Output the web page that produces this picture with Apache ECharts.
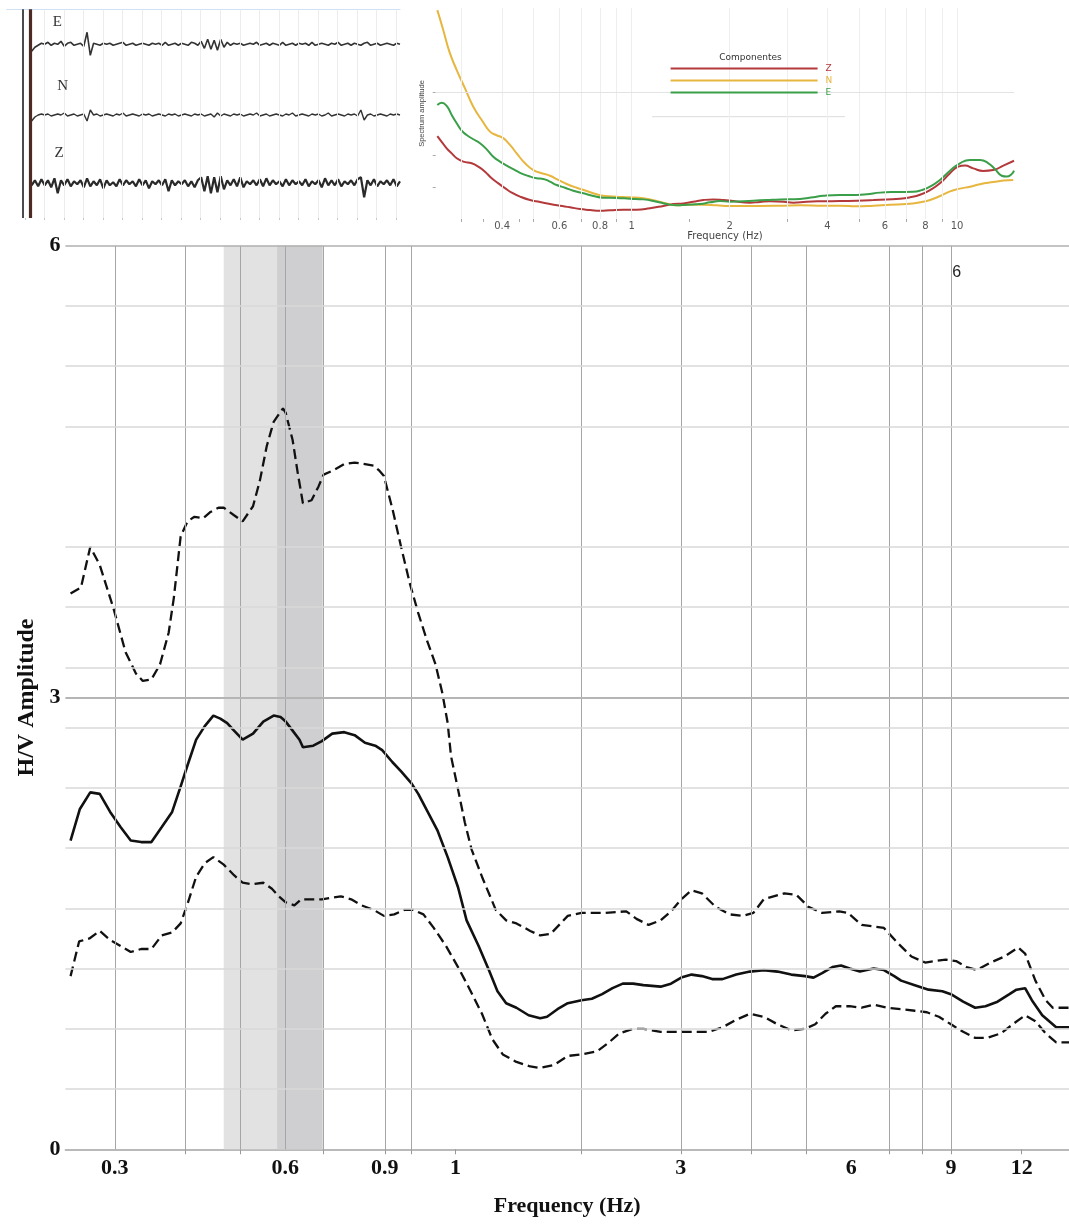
<!DOCTYPE html>
<html>
<head>
<meta charset="utf-8">
<script src="https://cdn.jsdelivr.net/npm/echarts@6/dist/echarts.min.js"></script>
<style>
  html, body { margin: 0; padding: 0; background: #fff; }
  #chart { width: 1069px; height: 1225px; }
</style>
</head>
<body>
<div id="chart"></div>
<script>
// ---------- H/V spectral ratio: mean curve and +/- one standard deviation ----------
const hvMeanFreq = [0.2506,0.2603,0.2715,0.2822,0.2944,0.3071,0.3201,0.3339,0.3482,0.3632,
  0.3788,0.3922,0.4033,0.4177,0.4326,0.4480,0.4608,0.4739,0.4873,0.5047,
  0.5264,0.5489,0.5725,0.5888,0.6013,0.6184,0.6360,0.6449,0.6726,0.6966,
  0.7265,0.7630,0.7959,0.8300,0.8656,0.8902,0.9285,0.9615,1.003,1.031,
  1.068,1.114,1.162,1.212,1.255,1.318,1.374,1.423,1.474,1.537,
  1.615,1.693,1.741,1.816,1.894,2.003,2.089,2.178,2.272,2.369,
  2.471,2.576,2.763,2.882,3.005,3.134,3.268,3.408,3.554,3.758,
  3.974,4.203,4.445,4.700,4.971,5.147,5.329,5.558,5.756,5.961,
  6.216,6.571,6.853,7.147,7.349,7.771,8.219,8.692,9.001,9.459,
  9.934,10.36,10.88,11.42,11.75,12.17,12.51,13.05,13.81,14.55];
const hvMeanAmp = [2.05,2.26,2.37,2.36,2.24,2.14,2.05,2.04,2.04,2.14,
  2.24,2.41,2.55,2.72,2.81,2.88,2.86,2.83,2.78,2.72,
  2.76,2.84,2.88,2.87,2.84,2.78,2.72,2.67,2.68,2.71,
  2.76,2.77,2.75,2.70,2.68,2.65,2.57,2.51,2.43,2.36,
  2.25,2.12,1.94,1.74,1.52,1.35,1.19,1.05,0.97,0.94,
  0.89,0.87,0.88,0.93,0.97,0.99,1.00,1.03,1.07,1.10,
  1.10,1.09,1.08,1.10,1.14,1.16,1.15,1.13,1.13,1.16,
  1.18,1.19,1.18,1.16,1.15,1.14,1.17,1.21,1.22,1.20,
  1.18,1.20,1.19,1.15,1.12,1.09,1.06,1.05,1.03,0.98,
  0.94,0.95,0.98,1.03,1.06,1.07,0.99,0.89,0.81,0.81];

const hvUpperFreq = [0.2506,0.2614,0.2715,0.2822,0.2985,0.3135,0.3269,0.3362,0.3482,0.3606,
  0.3735,0.3814,0.3922,0.4033,0.4148,0.4296,0.4418,0.4575,0.4673,0.4873,
  0.5047,0.5264,0.5413,0.5567,0.5725,0.5946,0.6013,0.6184,0.6315,0.6449,
  0.6679,0.6869,0.7015,0.7316,0.7630,0.7959,0.8300,0.8596,0.8779,0.8966,
  0.9285,0.9615,0.9958,1.031,1.068,1.106,1.137,1.162,1.178,1.212,
  1.246,1.281,1.336,1.413,1.474,1.537,1.626,1.693,1.766,1.894,
  2.003,2.209,2.403,2.505,2.631,2.763,2.882,3.005,3.134,3.268,
  3.456,3.654,3.865,4.030,4.203,4.571,4.800,5.041,5.329,5.716,
  5.919,6.259,6.571,6.853,7.247,7.664,8.105,8.453,8.814,9.192,
  9.592,10.00,10.58,11.19,11.83,12.17,12.69,13.23,13.62,14.55];
const hvUpperAmp = [3.69,3.73,4.00,3.88,3.59,3.30,3.16,3.11,3.12,3.22,
  3.43,3.66,4.07,4.17,4.20,4.19,4.23,4.26,4.26,4.21,
  4.17,4.27,4.44,4.67,4.83,4.92,4.89,4.71,4.49,4.29,
  4.31,4.40,4.48,4.51,4.55,4.56,4.55,4.54,4.51,4.47,
  4.25,4.00,3.76,3.56,3.38,3.22,3.03,2.83,2.61,2.39,
  2.17,1.99,1.81,1.59,1.52,1.50,1.45,1.42,1.43,1.55,
  1.57,1.57,1.58,1.53,1.49,1.52,1.58,1.66,1.72,1.70,
  1.61,1.56,1.55,1.57,1.66,1.70,1.69,1.61,1.57,1.58,
  1.57,1.49,1.48,1.47,1.37,1.28,1.24,1.25,1.26,1.25,
  1.21,1.19,1.24,1.28,1.34,1.30,1.12,0.99,0.94,0.94];

const hvLowerFreq = [0.2506,0.2595,0.2706,0.2822,0.2944,0.3071,0.3201,0.3339,0.3482,0.3632,
  0.3788,0.3922,0.4033,0.4177,0.4326,0.4480,0.4673,0.4873,0.5047,0.5227,
  0.5489,0.5685,0.5847,0.6013,0.6228,0.6404,0.6679,0.6966,0.7214,0.7523,
  0.7848,0.8184,0.8596,0.8966,0.9350,0.9751,1.010,1.053,1.098,1.154,
  1.212,1.272,1.336,1.394,1.454,1.537,1.626,1.693,1.791,1.894,
  2.003,2.133,2.240,2.336,2.471,2.576,2.763,2.922,3.090,3.360,
  3.554,3.758,3.974,4.203,4.445,4.700,4.971,5.183,5.404,5.636,
  5.961,6.259,6.571,6.949,7.349,7.771,8.162,8.571,9.001,9.459,
  9.934,10.43,11.03,11.67,12.17,12.69,13.23,13.81,14.55];
const hvLowerAmp = [1.15,1.38,1.40,1.45,1.39,1.35,1.31,1.33,1.33,1.42,
  1.44,1.50,1.63,1.81,1.90,1.94,1.89,1.82,1.77,1.76,
  1.77,1.73,1.68,1.64,1.62,1.66,1.66,1.66,1.67,1.68,
  1.66,1.62,1.59,1.55,1.56,1.59,1.59,1.56,1.47,1.35,
  1.21,1.06,0.90,0.73,0.63,0.58,0.55,0.54,0.56,0.62,
  0.63,0.65,0.71,0.77,0.80,0.80,0.78,0.78,0.78,0.78,
  0.81,0.86,0.90,0.88,0.83,0.79,0.80,0.83,0.90,0.95,
  0.95,0.94,0.96,0.94,0.93,0.92,0.91,0.88,0.83,0.78,
  0.74,0.74,0.77,0.84,0.89,0.85,0.77,0.71,0.71];

// peak frequency range (light) and its core (dark)
const peakBand = [0.4673, 0.6986];
const peakCore = [0.5807, 0.6986];

// axis ticks and grid of the H/V panel
const hvTickValues = [0.3, 0.6, 0.9, 1.2, 3, 6, 9, 12];
const hvTickTexts  = ['0.3', '0.6', '0.9', '1', '3', '6', '9', '12'];
const hvTickMarks  = [0.4, 0.5, 0.7, 0.9, 1, 1.2, 2, 3, 4, 5, 7, 8, 9, 12];
const hvGridFreqs  = [0.3, 0.4, 0.5, 0.6, 0.7, 0.9, 1, 2, 3, 4, 5, 7, 8, 9];
const ampGridValues = [0.4, 0.8, 1.2, 1.6, 2.0, 2.4, 2.8, 3.2, 3.6, 4.0, 4.8, 5.2, 5.6];
const ampTickValues = [0, 3, 6];

// ---------- component amplitude spectra (Z, N, E) ----------
const specZFreq = [0.2529,0.2608,0.2702,0.2800,0.2901,0.3039,0.3225,0.3380,0.3544,0.3716,
  0.3894,0.4082,0.4280,0.4540,0.4873,0.5231,0.5613,0.6025,0.6467,0.6941,
  0.7451,0.7998,0.8584,0.9430,1.037,1.139,1.252,1.344,1.442,1.547,
  1.661,1.783,1.913,2.053,2.312,2.481,2.662,2.926,3.140,3.452,
  3.882,4.370,4.918,5.534,6.081,6.682,7.171,7.696,8.260,8.863,
  9.517,10.09,10.58,11.22,12.04,12.93,13.88,14.97];
const specZAmp = [39.3,36.6,33.5,31.1,28.8,27.2,26.4,24.8,22.4,19.3,
  16.9,14.6,12.5,10.6,9.0,8.1,7.1,6.3,5.6,4.7,
  4.3,3.9,4.1,4.4,4.4,5.1,6.2,7.1,7.4,8.2,
  9.0,9.3,9.0,8.5,7.7,8.1,8.4,8.2,7.7,8.2,
  8.4,8.5,8.7,9.0,9.3,9.6,10.3,11.5,13.7,16.9,
  21.7,24.8,25.3,24.0,22.8,23.2,25.3,27.6];

const specNFreq = [0.2529,0.2637,0.2754,0.2901,0.3076,0.3262,0.3462,0.3671,0.3832,0.4034,
  0.4229,0.4434,0.4704,0.4988,0.5292,0.5613,0.5953,0.6317,0.6781,0.7278,
  0.7813,0.8285,0.9000,0.9888,1.086,1.194,1.297,1.376,1.512,1.661,
  1.826,2.006,2.481,2.858,3.293,3.882,4.370,4.918,5.534,6.225,
  7.002,7.696,8.260,8.863,9.517,10.21,10.96,11.77,12.93,13.88,14.89];
const specNAmp = [99.0,89.6,79.3,70.6,61.9,53.2,46.9,41.4,39.8,38.3,
  35.1,31.1,26.4,23.2,21.7,20.5,18.5,16.6,14.8,13.3,
  11.7,10.9,10.6,10.3,9.8,8.5,7.1,6.5,6.8,6.8,
  6.5,6.2,6.2,6.3,6.5,6.3,6.3,6.0,6.3,6.8,
  7.1,7.9,9.0,10.9,13.1,14.4,15.3,16.5,17.5,18.2,18.5];

const specEFreq = [0.2529,0.2608,0.2702,0.2800,0.2901,0.3005,0.3113,0.3262,0.3420,0.3587,
  0.3758,0.3940,0.4132,0.4329,0.4540,0.4815,0.5109,0.5355,0.5613,0.5886,
  0.6243,0.6619,0.7104,0.7626,0.8185,0.9000,0.9888,1.086,1.194,1.282,
  1.376,1.477,1.623,1.742,1.870,2.006,2.366,2.601,2.858,3.293,
  3.617,3.882,4.370,4.918,5.280,5.800,6.527,7.340,7.789,8.260,
  8.863,9.517,10.21,10.96,11.77,12.49,13.09,13.72,14.21,14.73,14.97];
const specEAmp = [54.0,55.1,53.6,49.3,45.4,41.9,39.8,37.8,35.9,33.0,
  29.5,27.2,25.3,23.6,21.9,20.4,19.3,19.0,17.7,16.1,
  14.8,13.4,12.2,10.9,10.1,10.0,9.6,9.3,8.2,7.1,
  6.5,6.8,7.1,7.9,8.5,8.2,8.7,9.0,9.3,9.5,
  10.3,11.0,11.4,11.4,11.7,12.5,12.8,12.9,13.7,15.3,
  18.5,22.9,26.4,28.0,28.0,26.4,23.6,20.5,20.1,21.3,22.9];

const specTickValues = [0.4, 0.6, 0.8, 1, 2, 4, 6, 8, 10];
const specTickTexts  = ['0.4', '0.6', '0.8', '1', '2', '4', '6', '8', '10'];
const specMinorTicks = [0.3, 0.35, 0.45, 0.5, 0.7, 0.9, 1.5, 3, 5, 7, 9];
const specGridFreqs  = [0.3, 0.4, 0.5, 0.6, 0.7, 0.8, 0.9, 1, 2, 3, 4, 5, 6, 7, 8, 9, 10];
const specAmpTicks   = [15, 30, 60];

// ---------- three-component ambient noise record ----------
const traceE = [-7,-3,-1,1,0,2,-1,1,0,3,
  -2,1,2,-1,0,1,-2,12,-11,1,
  0,-1,1,0,1,-1,0,1,2,-1,
  0,1,-1,0,1,0,-1,1,0,1,
  -1,2,-1,0,1,-1,1,0,-1,2,
  1,-1,3,-4,5,-5,4,-6,5,-3,
  2,-1,1,0,1,-1,0,1,0,2,
  -1,0,1,-1,1,0,-1,2,-1,0,
  1,-1,1,0,1,-1,2,-1,0,1,
  0,-1,1,0,2,-1,0,1,-1,1,
  0,-1,1,2,-1,0,1,-1,0,1,
  0,-1,1,0];
const traceN = [-6,-2,0,1,0,1,-1,0,1,0,
  2,-1,0,1,-1,0,1,-6,5,0,
  1,-1,0,1,0,-1,1,0,2,-1,
  0,1,0,-1,1,0,1,-1,0,1,
  0,-1,1,0,1,-1,0,1,0,-1,
  1,0,1,-1,0,1,-2,2,-1,1,
  0,-1,1,0,1,-1,0,1,0,2,
  -1,0,1,-1,0,1,0,-1,1,0,
  2,-1,0,1,0,-1,1,0,1,-1,
  0,2,-1,0,1,0,-1,1,0,1,
  -1,5,-5,0,1,-1,0,1,0,-1,
  1,0,1,0];
const traceZ = [-2,3,-3,4,-2,3,-4,5,-10,3,
  -2,4,-3,2,-1,3,-4,5,-3,2,
  -2,4,-5,3,-2,1,-3,4,-2,3,
  -1,2,-3,4,-2,3,-5,2,-1,3,
  -2,4,-8,3,-2,2,-1,3,-3,2,
  -4,3,6,-8,7,-10,6,-9,7,-6,
  3,-2,4,-3,6,-4,2,-1,3,-2,
  4,-3,5,-2,3,-1,2,-3,4,-2,
  3,-1,2,-2,4,-3,2,-1,3,-4,
  5,-2,3,-2,4,-3,2,-1,3,-2,
  4,6,-14,3,-2,4,-3,2,-1,3,
  -2,4,-3,2];
const traceStart = 0.35;   // record start / end on the time axis (minor divisions)
const traceEnd = 19.2;
const timeDivisions = [1,2,3,4,5,6,7,8,9,10,11,12,13,14,15,16,17,18,19];
const timeTicks = [0,1,2,3,4,5,6,7,8,9,10,11,12,13,14,15,16,17,18,19];

// ---------- helpers ----------
const zip = (xs, ys) => xs.map((x, i) => [x, ys[i]]);
const sampled = (vals) => {
  const dt = (traceEnd - traceStart) / (vals.length - 1);
  return vals.map((v, i) => [traceStart + i * dt, v]);
};
const lookup = (values, texts) => (v) => {
  const i = values.findIndex(t => Math.abs(t - v) < 1e-6 * Math.max(1, t));
  return i >= 0 ? texts[i] : '';
};

const serif = '"Liberation Serif", "Times New Roman", serif';
const sans = '"DejaVu Sans", Verdana, sans-serif';
const narrow = '"Liberation Sans Narrow", "Liberation Sans", Arial, sans-serif';
const colZ = '#b4393b', colN = '#e7b63f', colE = '#3a9f48';

const vLine = (f, color, width) => ({ xAxis: f, lineStyle: { color: color, width: width, type: 'solid' } });
const hLine = (a, color, width) => ({ yAxis: a, lineStyle: { color: color, width: width, type: 'solid' } });

const chart = echarts.init(document.getElementById('chart'), null, { renderer: 'canvas', width: 1069, height: 1225 });

const option = {
  animation: false,
  backgroundColor: '#ffffff',
  grid: [
    { left: 65.4, top: 245.7, width: 1003.6, height: 903.6 },   // H/V ratio
    { left: 435.7, top: 8, width: 578.6, height: 211 },          // component spectra
    { left: 6.7, top: 9.3, width: 393.3, height: 208.7 }         // records
  ],
  legend: {
    orient: 'vertical', left: 670.6, top: 63.5, padding: 0,
    itemWidth: 147, itemHeight: 2, itemGap: 2, icon: 'rect', selectedMode: false,
    textStyle: { fontFamily: sans, fontSize: 9, lineHeight: 10, padding: [0, 0, 0, 3] },
    data: [
      { name: 'Z', textStyle: { color: colZ } },
      { name: 'N', textStyle: { color: colN } },
      { name: 'E', textStyle: { color: colE } }
    ],
    z: 6
  },
  xAxis: [
    {
      gridIndex: 0, type: 'log', logBase: 10, min: 0.2454, max: 14.55,
      name: 'Frequency (Hz)', nameLocation: 'middle', nameGap: 46,
      nameTextStyle: { fontFamily: serif, fontWeight: 'bold', fontSize: 22, color: '#111' },
      axisLine: { show: true, onZero: false, lineStyle: { color: '#a3a3a3', width: 1.5 } },
      axisTick: { show: true, customValues: hvTickMarks, length: 5, lineStyle: { color: '#999', width: 1 } },
      axisLabel: { show: true, customValues: hvTickValues, formatter: lookup(hvTickValues, hvTickTexts),
        margin: 8, fontFamily: serif, fontWeight: 'bold', fontSize: 22, color: '#111' },
      splitLine: { show: false }
    },
    {
      gridIndex: 1, type: 'log', logBase: 10, min: 0.25, max: 15,
      name: 'Frequency (Hz)', nameLocation: 'middle', nameGap: 8,
      nameTextStyle: { fontFamily: sans, fontSize: 10, color: '#444' },
      axisLine: { show: false, onZero: false },
      axisTick: { show: true, customValues: specMinorTicks, length: 3, lineStyle: { color: '#aaa' } },
      axisLabel: { show: true, customValues: specTickValues, formatter: lookup(specTickValues, specTickTexts),
        margin: 2, fontFamily: sans, fontSize: 10, color: '#555' },
      splitLine: { show: false }
    },
    {
      gridIndex: 2, type: 'value', min: -0.926, max: 19.2,
      axisLine: { show: false, onZero: false },
      axisTick: { show: true, customValues: timeTicks, length: 2, lineStyle: { color: '#c8c8c8' } },
      axisLabel: { show: false }, splitLine: { show: false }
    },
    {
      gridIndex: 2, type: 'value', position: 'top', min: -0.926, max: 19.2,
      axisLine: { show: true, onZero: false, lineStyle: { color: '#cfe1f2', width: 1.2 } },
      axisTick: { show: false }, axisLabel: { show: false }, splitLine: { show: false }
    }
  ],
  yAxis: [
    {
      gridIndex: 0, type: 'value', min: 0, max: 6,
      name: 'H/V Amplitude', nameLocation: 'middle', nameGap: 17, nameRotate: 90,
      nameTextStyle: { fontFamily: serif, fontWeight: 'bold', fontSize: 24, color: '#111' },
      axisLine: { show: false }, axisTick: { show: false },
      axisLabel: { show: true, customValues: ampTickValues, margin: 5,
        fontFamily: serif, fontWeight: 'bold', fontSize: 22, color: '#111' },
      splitLine: { show: false }
    },
    {
      gridIndex: 1, type: 'value', min: 0, max: 100,
      name: 'Spectrum amplitude', nameLocation: 'middle', nameGap: 10, nameRotate: 90,
      nameTextStyle: { fontFamily: narrow, fontSize: 7.5, color: '#444' },
      axisLine: { show: false },
      axisTick: { show: true, customValues: specAmpTicks, length: 3, lineStyle: { color: '#aaa' } },
      axisLabel: { show: false }, splitLine: { show: false }
    },
    { gridIndex: 2, type: 'value', min: -173.7, max: 35, show: false },
    { gridIndex: 2, type: 'value', min: -103, max: 105.7, show: false },
    { gridIndex: 2, type: 'value', min: -34.7, max: 174, show: false }
  ],
  series: [
    // peak frequency range shading
    {
      type: 'line', xAxisIndex: 0, yAxisIndex: 0, data: [[1, 0]], symbol: 'none',
      lineStyle: { width: 0 }, silent: true, z: 1,
      markArea: {
        silent: true,
        data: [
          [{ xAxis: peakBand[0], itemStyle: { color: '#e2e2e2' } }, { xAxis: peakBand[1] }],
          [{ xAxis: peakCore[0], itemStyle: { color: '#cfcfd1' } }, { xAxis: peakCore[1] }]
        ]
      }
    },
    // H/V grid
    {
      type: 'line', xAxisIndex: 0, yAxisIndex: 0, data: [[1, 0]], symbol: 'none',
      lineStyle: { width: 0 }, silent: true, z: 2,
      markLine: {
        silent: true, symbol: 'none', label: { show: false },
        data: [].concat(
          hvGridFreqs.map(f => vLine(f, '#a6a6a6', 1)),
          ampGridValues.map(a => hLine(a, '#d8d8d8', 1.5)),
          [hLine(3, '#b5b5b5', 2), hLine(6, '#b0b0b0', 1.5)]
        )
      }
    },
    {
      name: 'H/V + std', type: 'line', xAxisIndex: 0, yAxisIndex: 0,
      data: zip(hvUpperFreq, hvUpperAmp), symbol: 'none', z: 4,
      lineStyle: { color: '#111', width: 2.3, type: [10, 5] }
    },
    {
      name: 'H/V', type: 'line', xAxisIndex: 0, yAxisIndex: 0,
      data: zip(hvMeanFreq, hvMeanAmp), symbol: 'none', z: 4,
      lineStyle: { color: '#111', width: 2.6 }
    },
    {
      name: 'H/V - std', type: 'line', xAxisIndex: 0, yAxisIndex: 0,
      data: zip(hvLowerFreq, hvLowerAmp), symbol: 'none', z: 4,
      lineStyle: { color: '#111', width: 2.3, type: [10, 5] }
    },

    // spectra grid
    {
      type: 'line', xAxisIndex: 1, yAxisIndex: 1, data: [[1, 0]], symbol: 'none',
      lineStyle: { width: 0 }, silent: true, z: 1,
      markLine: {
        silent: true, symbol: 'none', label: { show: false },
        data: [].concat(
          specGridFreqs.map(f => vLine(f, '#eeeeee', 1)),
          [hLine(60, '#e3e3e3', 1)]
        )
      }
    },
    {
      name: 'Z', type: 'line', xAxisIndex: 1, yAxisIndex: 1, data: zip(specZFreq, specZAmp),
      symbol: 'none', smooth: true, color: colZ, z: 4, lineStyle: { color: colZ, width: 2 }
    },
    {
      name: 'N', type: 'line', xAxisIndex: 1, yAxisIndex: 1, data: zip(specNFreq, specNAmp),
      symbol: 'none', smooth: true, color: colN, z: 4, lineStyle: { color: colN, width: 2 }
    },
    {
      name: 'E', type: 'line', xAxisIndex: 1, yAxisIndex: 1, data: zip(specEFreq, specEAmp),
      symbol: 'none', smooth: true, color: colE, z: 4, lineStyle: { color: colE, width: 2 }
    },

    // record time divisions and trigger marks
    {
      type: 'line', xAxisIndex: 2, yAxisIndex: 2, data: [[1, 0]], symbol: 'none',
      lineStyle: { width: 0 }, silent: true, z: 1,
      markLine: {
        silent: true, symbol: 'none', label: { show: false },
        data: [].concat(
          timeDivisions.map(t => vLine(t, '#ececec', 1)),
          [vLine(-0.11, '#1e1e1e', 1.6), vLine(0.27, '#4d2a24', 3.2)]
        )
      }
    },
    {
      name: 'rec E', type: 'line', xAxisIndex: 2, yAxisIndex: 2, data: sampled(traceE),
      symbol: 'none', z: 4, lineStyle: { color: '#333', width: 1.6 }
    },
    {
      name: 'rec N', type: 'line', xAxisIndex: 2, yAxisIndex: 3, data: sampled(traceN),
      symbol: 'none', z: 4, lineStyle: { color: '#333', width: 1.4 }
    },
    {
      name: 'rec Z', type: 'line', xAxisIndex: 2, yAxisIndex: 4, data: sampled(traceZ),
      symbol: 'none', z: 4, lineStyle: { color: '#2a2a2a', width: 2.2 }
    }
  ],
  graphic: [
    // legend box of the spectra panel
    { type: 'rect', shape: { x: 652, y: 36, width: 193, height: 80.7 }, style: { fill: '#ffffff' }, z: 3, silent: true },
    { type: 'line', shape: { x1: 652, y1: 116.7, x2: 845, y2: 116.7 }, style: { stroke: '#dcdcdc', lineWidth: 1 }, z: 3, silent: true },
    { type: 'text', x: 750.5, y: 57.3, z: 6, silent: true,
      style: { text: 'Componentes', fill: '#333', font: '9px ' + sans, align: 'center', verticalAlign: 'middle' } },
    // component letters of the records
    { type: 'text', x: 57.3, y: 21.7, z: 6, silent: true,
      style: { text: 'E', fill: '#333', font: '15px ' + serif, align: 'center', verticalAlign: 'middle' } },
    { type: 'text', x: 62.7, y: 86, z: 6, silent: true,
      style: { text: 'N', fill: '#333', font: '15px ' + serif, align: 'center', verticalAlign: 'middle' } },
    { type: 'text', x: 59, y: 152.7, z: 6, silent: true,
      style: { text: 'Z', fill: '#333', font: '15px ' + serif, align: 'center', verticalAlign: 'middle' } },
    // panel number
    { type: 'text', x: 956.7, y: 272.3, z: 6, silent: true,
      style: { text: '6', fill: '#222', font: '16px "Liberation Sans", Arial, sans-serif', align: 'center', verticalAlign: 'middle' } }
  ]
};

chart.setOption(option);
</script>
</body>
</html>
